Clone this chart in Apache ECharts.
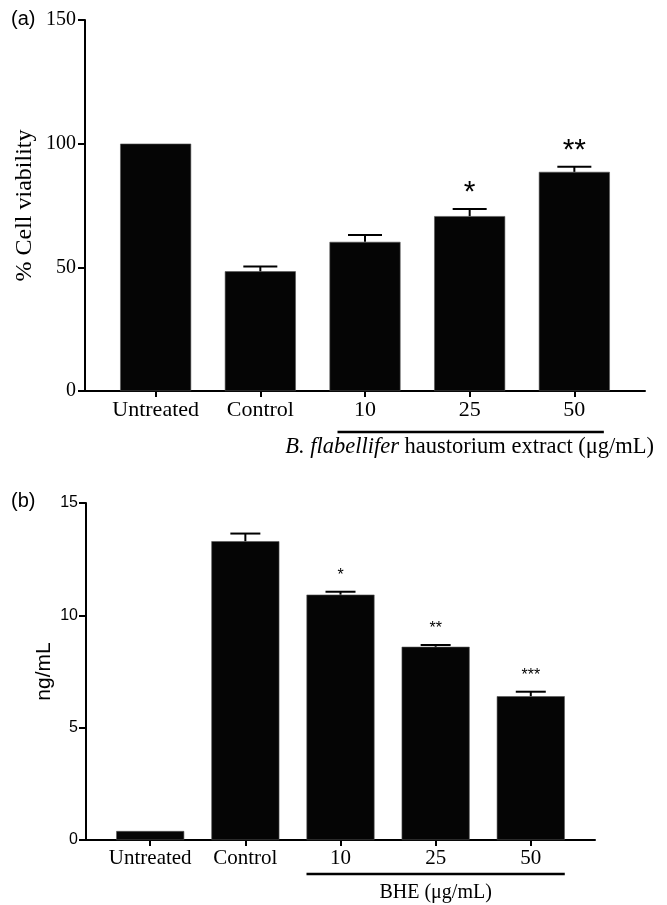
<!DOCTYPE html>
<html>
<head>
<meta charset="utf-8">
<script src="https://cdn.jsdelivr.net/npm/echarts@6/dist/echarts.min.js"></script>
<style>html,body{margin:0;padding:0;background:#fff}#c{width:667px;height:905px}</style>
</head>
<body>
<div id="c"></div>
<script>
// ---- data ----
const categories = ['Untreated', 'Control', '10', '25', '50'];
const viability = [100, 48.4, 60.3, 70.7, 88.6];
const viabilityErr = [0, 1.9, 2.8, 2.9, 2.1];
const viabilitySig = ['', '', '', '*', '**'];
const level = [0.40, 13.30, 10.92, 8.60, 6.40];
const levelErr = [0, 0.34, 0.13, 0.08, 0.20];
const levelSig = ['', '', '*', '**', '***'];
const yTicksA = [0, 50, 100, 150];
const yTicksB = [0, 5, 10, 15];
const groupLabelA = 'B. flabellifer';
const groupLabelA2 = ' haustorium extract (μg/mL)';
const groupLabelB = 'BHE (μg/mL)';

const SERIF = 'Liberation Serif';
const SANS = 'Liberation Sans';
const idx = categories.map((_, i) => i);

function xAxisCfg(gridIndex, labelSize) {
  return {
    type: 'value', gridIndex, min: -0.675, max: 4.675,
    axisLine: { show: true, onZero: false, lineStyle: { color: '#000', width: 2 } },
    axisTick: { show: true, inside: false, customValues: idx, length: 6, lineStyle: { color: '#000', width: 2 } },
    axisLabel: { customValues: idx, formatter: v => categories[Math.round(v)], fontFamily: SERIF, fontSize: labelSize, color: '#000', margin: 8 },
    splitLine: { show: false }
  };
}
function yAxisCfg(gridIndex, ticks, font, size, margin, name, nameFont, nameSize, nameGap) {
  return {
    type: 'value', gridIndex, min: ticks[0], max: ticks[ticks.length - 1], interval: ticks[1] - ticks[0],
    axisLine: { show: true, onZero: false, lineStyle: { color: '#000', width: 2 } },
    axisTick: { show: true, inside: false, length: 7, lineStyle: { color: '#000', width: 2 } },
    axisLabel: { fontFamily: font, fontSize: size, color: '#000', margin },
    splitLine: { show: false },
    name, nameLocation: 'middle', nameGap, nameMoveOverlap: false,
    nameTextStyle: { fontFamily: nameFont, fontSize: nameSize, color: '#000' }
  };
}
function errSeries(gridIndex, vals, errs, sigs, capHalf, starFont, starSize, starGap) {
  return {
    type: 'custom', xAxisIndex: gridIndex, yAxisIndex: gridIndex, z: 5,
    data: vals.map((v, i) => [i, v, errs[i]]),
    renderItem: function (params, api) {
      const x = api.value(0), y = api.value(1), e = api.value(2);
      const base = api.coord([x, y]);
      const top = api.coord([x, y + e]);
      const children = [];
      if (e > 0) {
        children.push({ type: 'line', shape: { x1: base[0], y1: base[1], x2: top[0], y2: top[1] }, style: { stroke: '#000', lineWidth: 2 } });
        children.push({ type: 'line', shape: { x1: top[0] - capHalf, y1: top[1], x2: top[0] + capHalf, y2: top[1] }, style: { stroke: '#000', lineWidth: 2 } });
      }
      const s = sigs[params.dataIndex];
      if (s) {
        children.push({ type: 'text', x: top[0], y: top[1] - starGap, style: { text: s, fill: '#000', font: starFont, fontSize: starSize, align: 'center', verticalAlign: 'middle' } });
      }
      return { type: 'group', children };
    }
  };
}

const chart = echarts.init(document.getElementById('c'), null, { renderer: 'canvas' });
chart.setOption({
  animation: false,
  backgroundColor: '#fff',
  grid: [
    { left: 85, top: 20, width: 560, height: 371, containLabel: false, outerBoundsMode: 'none' },
    { left: 86, top: 503, width: 509, height: 337, containLabel: false, outerBoundsMode: 'none' }
  ],
  xAxis: [xAxisCfg(0, 22), xAxisCfg(1, 21)],
  yAxis: [
    yAxisCfg(0, yTicksA, SERIF, 20, 9, '% Cell viability', SERIF, 24, 48),
    yAxisCfg(1, yTicksB, SANS, 16, 8, 'ng/mL', SANS, 21, 31)
  ],
  series: [
    { type: 'bar', xAxisIndex: 0, yAxisIndex: 0, barWidth: 71, data: viability.map((v, i) => [i, v]), itemStyle: { color: '#050505', borderColor: '#555', borderWidth: 0.6 } },
    errSeries(0, viability, viabilityErr, viabilitySig, 17, 'bold 30px ' + SANS, 30, 16),
    { type: 'bar', xAxisIndex: 1, yAxisIndex: 1, barWidth: 68, data: level.map((v, i) => [i, v]), itemStyle: { color: '#050505', borderColor: '#555', borderWidth: 0.6 } },
    errSeries(1, level, levelErr, levelSig, 15, '16px ' + SERIF, 16, 16)
  ]
});

// annotations: group underline and group labels, positioned from the axes
const pA0 = chart.convertToPixel({ gridIndex: 0 }, [2, 0]);
const pA1 = chart.convertToPixel({ gridIndex: 0 }, [4, 0]);
const pB0 = chart.convertToPixel({ gridIndex: 1 }, [2, 0]);
const pB1 = chart.convertToPixel({ gridIndex: 1 }, [4, 0]);
const halfA = 35.5, halfB = 34;
chart.setOption({
  graphic: [
    { type: 'text', left: 11, top: 9, style: { text: '(a)', font: '20px ' + SANS, fill: '#000' } },
    { type: 'text', left: 11, top: 491, style: { text: '(b)', font: '20px ' + SANS, fill: '#000' } },
    { type: 'line', shape: { x1: pA0[0] - halfA + 8, y1: pA0[1] + 41, x2: pA1[0] + halfA - 6, y2: pA1[1] + 41 }, style: { stroke: '#000', lineWidth: 2.5 } },
    { type: 'text', x: (pA0[0] + pA1[0]) / 2, y: pA0[1] + 56,
      style: { rich: { i: { fontStyle: 'italic', fontFamily: SERIF, fontSize: 22.5, fill: '#000' }, n: { fontFamily: SERIF, fontSize: 22.5, fill: '#000' } },
               text: '{i|' + groupLabelA + '}{n|' + groupLabelA2 + '}', align: 'center', verticalAlign: 'middle' } },
    { type: 'line', shape: { x1: pB0[0] - halfB, y1: pB0[1] + 34, x2: pB1[0] + halfB, y2: pB1[1] + 34 }, style: { stroke: '#000', lineWidth: 2.5 } },
    { type: 'text', x: (pB0[0] + pB1[0]) / 2, y: pB0[1] + 53, style: { text: groupLabelB, font: '20px ' + SERIF, fill: '#000', align: 'center', verticalAlign: 'middle' } }
  ]
});
</script>
</body>
</html>
